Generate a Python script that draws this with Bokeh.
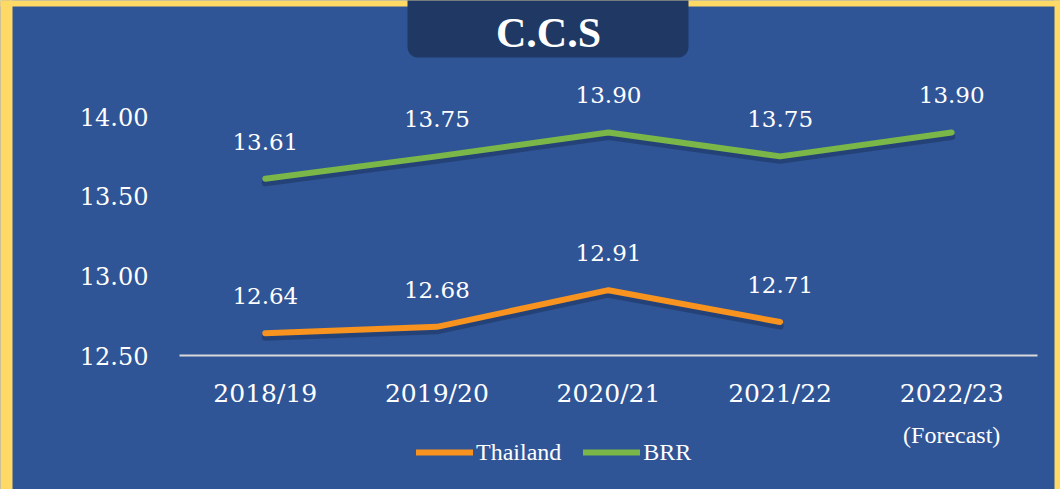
from bokeh.plotting import figure
from bokeh.models import (Range1d, FixedTicker, PrintfTickFormatter,
                          Legend, LegendItem, BoxAnnotation, Label, ColumnDataSource)
from bokeh.core.properties import value
from bokeh.embed import file_html
from bokeh.resources import INLINE

# ---- data ----
categories = ["2018/19", "2019/20", "2020/21", "2021/22", "2022/23"]
thailand = [12.64, 12.68, 12.91, 12.71]
brr = [13.61, 13.75, 13.90, 13.75, 13.90]
y_ticks = [12.50, 13.00, 13.50, 14.00]
title_text = "C.C.S"
forecast_note = "(Forecast)"
series_names = ["Thailand", "BRR"]

BLUE = "#2F5597"
DARK = "#203864"
YELLOW = "#FFD966"
ORANGE = "#F7931E"
GREEN = "#7AB648"
SHADOW = "#1B335C"

W, H = 1060, 489
# layout of the plotting area in pixels
CAT_STEP = 171.6      # px between categories
CAT0_PX = 264.8       # px of first category
PX_PER_UNIT = 159.3   # px per y unit
BASE_PX = 355         # px of y = 12.5
Y_BASE = 12.5

x_idx = list(range(len(categories)))
x_start = -CAT0_PX / CAT_STEP
x_end = (W - CAT0_PX) / CAT_STEP
y_end = Y_BASE + BASE_PX / PX_PER_UNIT
y_start = Y_BASE - (H - BASE_PX) / PX_PER_UNIT

p = figure(x_range=Range1d(x_start, x_end), y_range=Range1d(y_start, y_end),
           width=W, height=H, output_backend="svg", toolbar_location=None,
           title=None, min_border=0, min_border_left=0, min_border_right=0,
           min_border_top=0, min_border_bottom=0)
p.background_fill_color = BLUE
p.border_fill_color = BLUE
p.outline_line_color = None
p.grid.visible = False

# decorations (drawn beneath data)
for l, r, t, b in [(-10, 12, -10, H + 10), (1054, W + 10, -10, H + 10), (-10, W + 10, -10, 6)]:
    p.add_layout(BoxAnnotation(left=l, right=r, top=t, bottom=b, level="underlay",
                               left_units="canvas", right_units="canvas",
                               top_units="canvas", bottom_units="canvas",
                               fill_color=YELLOW, fill_alpha=1, line_color=None))
p.add_layout(BoxAnnotation(left=407, right=688, top=-20, bottom=57, level="underlay",
                           left_units="canvas", right_units="canvas",
                           top_units="canvas", bottom_units="canvas",
                           fill_color=DARK, fill_alpha=1, line_color=None,
                           border_radius=10))

# axes, placed inside the canvas
p.xaxis.fixed_location = Y_BASE
p.xaxis.bounds = (x_idx[0] - 0.5, x_idx[-1] + 0.5)
p.xaxis.ticker = FixedTicker(ticks=x_idx)
p.xaxis.major_label_overrides = {i: c for i, c in zip(x_idx, categories)}
p.xaxis.axis_line_color = "#D9D9D9"
p.xaxis.axis_line_width = 2
p.xaxis.major_tick_line_color = None
p.xaxis.minor_tick_line_color = None
p.xaxis.major_tick_out = 0
p.xaxis.major_tick_in = 0
p.xaxis.major_label_text_font = "DejaVu Serif"
p.xaxis.major_label_text_font_size = "25px"
p.xaxis.major_label_text_color = "white"
p.xaxis.major_label_standoff = 23

p.yaxis.fixed_location = x_idx[0] - 0.5
p.yaxis.axis_line_color = None
p.yaxis.major_tick_line_color = None
p.yaxis.minor_tick_line_color = None
p.yaxis.major_tick_out = 0
p.yaxis.major_tick_in = 0
p.yaxis.ticker = FixedTicker(ticks=y_ticks)
p.yaxis.formatter = PrintfTickFormatter(format="%.2f")
p.yaxis.major_label_text_font = "DejaVu Serif"
p.yaxis.major_label_text_font_size = "24px"
p.yaxis.major_label_text_color = "white"
p.yaxis.major_label_standoff = 31

shadow_dy = 4 / PX_PER_UNIT

th_src = ColumnDataSource(dict(x=x_idx[:len(thailand)], y=thailand,
                               ys=[v - shadow_dy for v in thailand],
                               lab=["%.2f" % v for v in thailand]))
br_src = ColumnDataSource(dict(x=x_idx[:len(brr)], y=brr,
                               ys=[v - shadow_dy for v in brr],
                               lab=["%.2f" % v for v in brr]))

for src in (th_src, br_src):
    p.line("x", "ys", source=src, line_color=SHADOW, line_alpha=0.55, line_width=7,
           line_cap="round", line_join="round")

r_th = p.line("x", "y", source=th_src, line_color=ORANGE, line_width=6,
              line_cap="round", line_join="round")
r_br = p.line("x", "y", source=br_src, line_color=GREEN, line_width=6,
              line_cap="round", line_join="round")

for src in (th_src, br_src):
    p.text("x", "y", text="lab", source=src, y_offset=-37,
           text_align="center", text_baseline="middle",
           text_font=value("DejaVu Serif"), text_font_size="23px", text_color="white")

legend = Legend(items=[LegendItem(label=series_names[0], renderers=[r_th]),
                       LegendItem(label=series_names[1], renderers=[r_br])],
                orientation="horizontal", location=(416, 23),
                glyph_width=57, glyph_height=28, label_height=28,
                label_standoff=3, spacing=22,
                padding=0, margin=0, background_fill_alpha=0, border_line_color=None,
                label_text_font="Liberation Serif", label_text_font_size="24px",
                label_text_color="white")
p.add_layout(legend)

# forecast note under the last category
p.add_layout(Label(x=x_idx[categories.index("2022/23")], y=434, x_units="data", y_units="canvas",
                   text=forecast_note, text_align="center", text_baseline="middle",
                   text_font="Liberation Serif", text_font_size="24px", text_color="white"))

# title
p.add_layout(Label(x=548, y=32, x_units="canvas", y_units="canvas", text=title_text,
                   text_align="center", text_baseline="alphabetic",
                   text_font="Liberation Serif", text_font_style="bold",
                   text_font_size="42px", text_color="white"))

open("out.html", "w").write(file_html(p, INLINE))
